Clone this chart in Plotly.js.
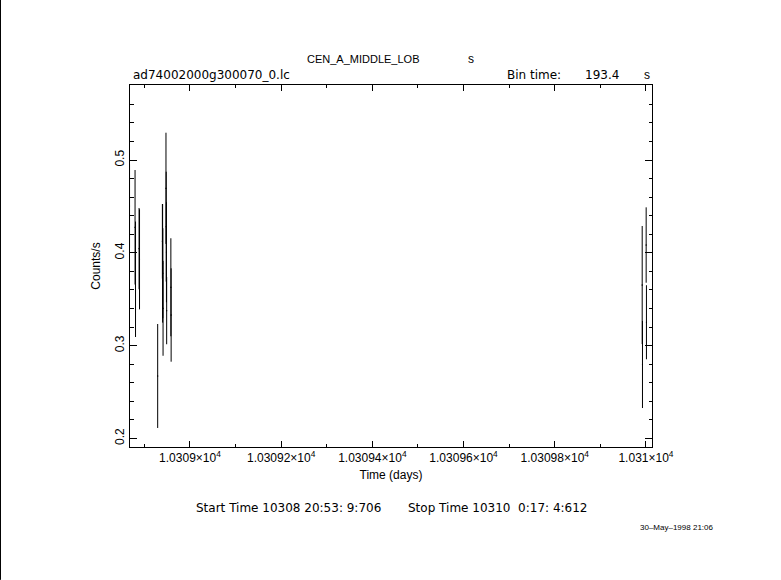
<!DOCTYPE html>
<html>
<head>
<meta charset="utf-8">
<script src="https://cdn.plot.ly/plotly-3.0.1.min.js"></script>
<style>
html,body{margin:0;padding:0;background:#fff;}
#plot{width:781px;height:580px;}
</style>
</head>
<body>
<div id="plot"></div>
<script>
// Light-curve bins: time (days), rate (counts/s), 1-sigma error
var times = [10308.8675,
  10308.8796, 10308.8806,
  10308.8884, 10308.8894,
  10308.9292,
  10308.9395, 10308.9400, 10308.9405, 10308.9410,
  10308.9474, 10308.9479, 10308.9484, 10308.9489,
  10308.9581, 10308.9587,
  10309.9917, 10309.9923,
  10310.0004, 10310.0010];
var rates = [0.4504,
  0.4275, 0.3715,
  0.4045, 0.3930,
  0.2673,
  0.4124, 0.3887, 0.3780, 0.3402,
  0.4695, 0.4282, 0.4006, 0.3377,
  0.3629, 0.3330,
  0.3653, 0.2797,
  0.4084, 0.3252];
var errors = [0.045,
  0.0617, 0.0622,
  0.0438, 0.0539,
  0.0560,
  0.0402, 0.0639, 0.0485, 0.0511,
  0.0599, 0.0592, 0.0539, 0.0362,
  0.0528, 0.0503,
  0.0636, 0.0469,
  0.0406, 0.0399];
var halfBin = 193.4 / 2 / 86400;

var xTickVals = [10309, 10309.2, 10309.4, 10309.6, 10309.8, 10310];
var xTickText = ['1.0309\u00d710<sup>4</sup>', '1.03092\u00d710<sup>4</sup>', '1.03094\u00d710<sup>4</sup>',
                 '1.03096\u00d710<sup>4</sup>', '1.03098\u00d710<sup>4</sup>', '1.031\u00d710<sup>4</sup>'];
var xMinorVals = [10308.9, 10309.1, 10309.3, 10309.5, 10309.7, 10309.9];

var xRange = [10308.8685, 10310.0132];
var yRange = [0.1908, 0.5808];

var FONT = 'Liberation Sans, Arial, sans-serif';
var WIDE = 'DejaVu Sans, sans-serif';

var trace = {
  x: times, y: rates, type: 'scatter', mode: 'markers', cliponaxis: false,
  marker: {size: 1, color: 'black'},
  error_y: {type: 'data', array: errors, visible: true, color: 'black', thickness: 1, width: 0},
  error_x: {type: 'constant', value: halfBin, visible: true, color: 'black', thickness: 1, width: 0},
  hoverinfo: 'none', showlegend: false
};

function ann(text, x, y, xa, size, fam) {
  return {text: text, x: x, y: y, xref: 'paper', yref: 'paper', xanchor: xa || 'center',
          yanchor: 'middle', showarrow: false, font: {family: fam || FONT, size: size || 12, color: 'black'}};
}

var layout = {
  width: 781, height: 580,
  margin: {l: 130, r: 129, t: 85, b: 133},
  paper_bgcolor: 'white', plot_bgcolor: 'white',
  font: {family: FONT, size: 12, color: 'black'},
  xaxis: {
    range: xRange, tickmode: 'array', tickvals: xTickVals, ticktext: xTickText,
    ticks: 'inside', ticklen: 6, tickcolor: 'black', tickwidth: 1,
    showline: true, linecolor: 'black', linewidth: 1, mirror: 'allticks',
    showgrid: false, zeroline: false,
    minor: {tickmode: 'array', tickvals: xMinorVals, ticks: 'inside', ticklen: 3, tickcolor: 'black', showgrid: false},
    title: {text: 'Time (days)', font: {family: FONT, size: 12, color: 'black'}, standoff: 6},
    tickfont: {family: FONT, size: 12, color: 'black'}
  },
  yaxis: {
    range: yRange, tickmode: 'linear', tick0: 0, dtick: 0.1, tickformat: '.1f',
    tickangle: -90,
    ticks: 'inside', ticklen: 7, tickcolor: 'black', tickwidth: 1,
    showline: true, linecolor: 'black', linewidth: 1, mirror: 'allticks',
    showgrid: false, zeroline: false,
    minor: {dtick: 0.02, ticks: 'inside', ticklen: 3.5, tickcolor: 'black', showgrid: false},
    title: {text: 'Counts/s', font: {family: FONT, size: 12, color: 'black'}, standoff: 10},
    tickfont: {family: FONT, size: 12, color: 'black'}
  },
  annotations: [
    ann('CEN_A_MIDDLE_LOB', 0.448, 1.072, 'center', 11),
    ann('s', 0.653, 1.072),
    ann('ad74002000g300070_0.lc', 0.002, 1.028, 'left', 12, WIDE),
    ann('Bin time:', 0.718, 1.028, 'left', 12, WIDE),
    ann('193.4', 0.868, 1.028, 'left', 12, WIDE),
    ann('s', 0.990, 1.028),
    ann('Start Time 10308 20:53: 9:706', 0.1226, -0.1685, 'left', 12, WIDE),
    ann('Stop Time 10310  0:17: 4:612', 0.5287, -0.1685, 'left', 12, WIDE),
    ann('30\u2013May\u20131998 21:06', 1.048, -0.221, 'center', 8)
  ],
  shapes: [
    {type: 'line', xref: 'paper', yref: 'paper', x0: -0.2481, x1: -0.2481, y0: -0.367, y1: 1.235,
     line: {color: 'black', width: 1}}
  ]
};

Plotly.newPlot('plot', [trace], layout, {staticPlot: true, displayModeBar: false});
</script>
</body>
</html>
